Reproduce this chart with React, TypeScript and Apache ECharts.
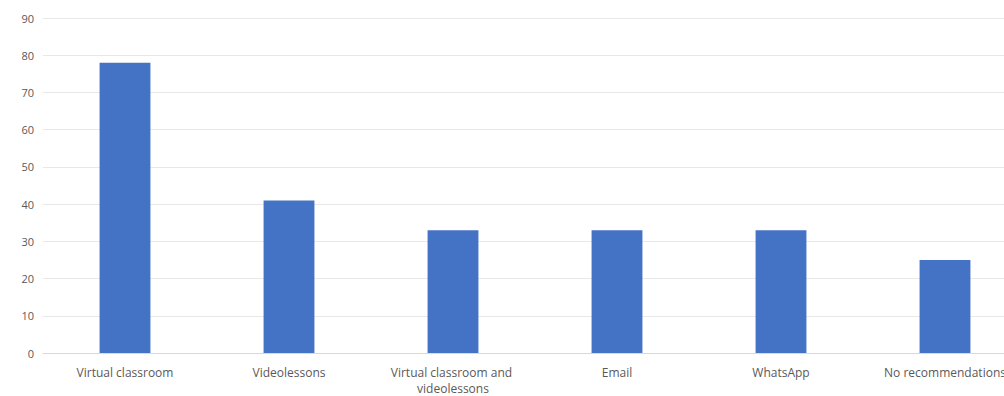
import React, { useEffect, useRef } from "react";
import * as echarts from "echarts";

const categories = [
  "Virtual classroom",
  "Videolessons",
  "Virtual classroom and videolessons",
  "Email",
  "WhatsApp",
  "No recommendations",
];
const values = [78, 41, 33, 33, 33, 25];
const yMin = 0;
const yMax = 90;
const yInterval = 10;

export default function App() {
  const ref = useRef<HTMLDivElement>(null);
  useEffect(() => {
    if (!ref.current) return;
    const chart = echarts.init(ref.current, null, { renderer: "svg" });
    chart.setOption({
      animation: false,
      backgroundColor: "#ffffff",
      grid: { left: 43, right: 13, top: 18, bottom: 42, containLabel: false },
      xAxis: {
        type: "category",
        data: categories,
        axisLine: { show: true, lineStyle: { color: "#d9d9d9", width: 1 } },
        axisTick: { show: false },
        axisLabel: {
          color: "#595959",
          fontFamily: "Open Sans",
          fontSize: 12,
          margin: 11,
          width: 150,
          overflow: "break",
          lineHeight: 16,
          interval: 0,
        },
      },
      yAxis: {
        type: "value",
        min: yMin,
        max: yMax,
        interval: yInterval,
        axisLine: { show: false },
        axisTick: { show: false },
        splitLine: { lineStyle: { color: "#e8e8e8", width: 1 } },
        axisLabel: {
          color: "#595959",
          fontFamily: "Open Sans",
          fontSize: 11,
          margin: 9,
        },
      },
      series: [
        {
          type: "bar",
          data: values,
          barWidth: "31%",
          itemStyle: { color: "#4472C4" },
        },
      ],
    });
    return () => chart.dispose();
  }, []);
  return (
    <div
      style={{
        position: "absolute",
        left: 0,
        top: 0,
        width: 1004,
        height: 396,
        overflow: "hidden",
        background: "#fff",
      }}
    >
      <div ref={ref} style={{ width: 1040, height: 396 }} />
    </div>
  );
}
